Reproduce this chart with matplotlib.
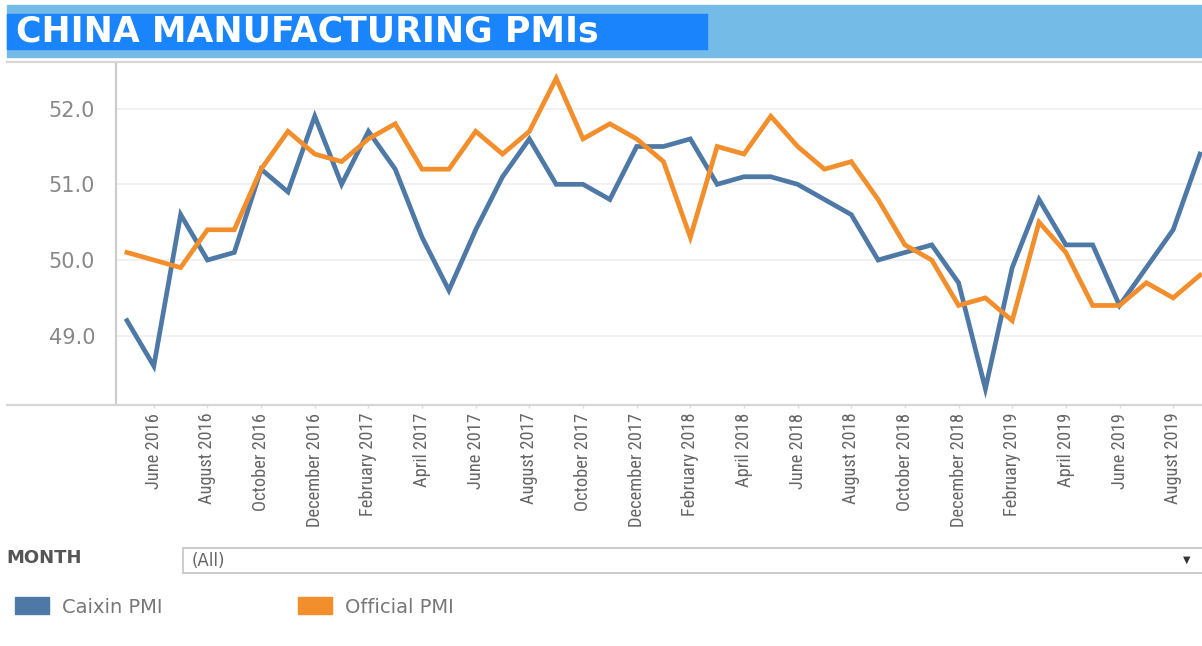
import matplotlib
matplotlib.use("Agg")
import matplotlib.pyplot as plt
import pandas as pd
from matplotlib import font_manager
from matplotlib.patches import Rectangle, Patch
from matplotlib.lines import Line2D

# monthly PMI readings, May 2016 .. Sep 2019
months = pd.date_range("2016-05-01", periods=41, freq="MS").strftime("%B %Y").tolist()
caixin = [49.2, 48.6, 50.6, 50.0, 50.1, 51.2, 50.9, 51.9, 51.0, 51.7, 51.2, 50.3,
          49.6, 50.4, 51.1, 51.6, 51.0, 51.0, 50.8, 51.5, 51.5, 51.6, 51.0, 51.1,
          51.1, 51.0, 50.8, 50.6, 50.0, 50.1, 50.2, 49.7, 48.3, 49.9, 50.8, 50.2,
          50.2, 49.4, 49.9, 50.4, 51.4]
official = [50.1, 50.0, 49.9, 50.4, 50.4, 51.2, 51.7, 51.4, 51.3, 51.6, 51.8, 51.2,
            51.2, 51.7, 51.4, 51.7, 52.4, 51.6, 51.8, 51.6, 51.3, 50.3, 51.5, 51.4,
            51.9, 51.5, 51.2, 51.3, 50.8, 50.2, 50.0, 49.4, 49.5, 49.2, 50.5, 50.1,
            49.4, 49.4, 49.7, 49.5, 49.8]
yticks = [49.0, 50.0, 51.0, 52.0]

BLUE = "#4e79a7"
ORANGE = "#f28e2b"

# narrowest available face for the rotated month labels
names = {f.name for f in font_manager.fontManager.ttflist}
narrow = "DejaVu Sans"
for cand in ["Liberation Sans Narrow", "Roboto Condensed", "Open Sans Condensed",
             "DejaVu Sans Condensed"]:
    if cand in names:
        narrow = cand
        break

W, H = 1202, 646
fig = plt.figure(figsize=(W / 100, H / 100), dpi=100)

def fx(px):
    return px / W

def fy(py):
    return 1 - py / H

# title banner
fig.patches.append(Rectangle((fx(7), fy(57)), fx(1202) - fx(7), (57 - 5) / H,
                             transform=fig.transFigure, color="#74bbe8", zorder=0))
fig.patches.append(Rectangle((fx(7), fy(49)), fx(707) - fx(7), (49 - 14) / H,
                             transform=fig.transFigure, color="#1a84fc", zorder=1))
fig.text(fx(16), fy(32), "CHINA MANUFACTURING PMIs", color="white", fontsize=25,
         fontweight="bold", family="DejaVu Sans", va="center", ha="left")

# frame lines across the chart pane
for py in (62, 405):
    fig.add_artist(Line2D([fx(7), 1], [fy(py), fy(py)], color="#d6d6d6", lw=1.6,
                          transform=fig.transFigure))

ax = fig.add_axes([fx(116), fy(405), fx(1202) - fx(116), (405 - 62) / H])
x = list(range(len(months)))
ax.plot(x, caixin, color=BLUE, lw=3.4, solid_joinstyle="miter", label="Caixin PMI")
ax.plot(x, official, color=ORANGE, lw=3.4, solid_joinstyle="miter", label="Official PMI")

ax.set_xlim(-0.41, 40.075)
ax.set_ylim(48.085, 52.616)
ax.set_yticks(yticks)
ax.set_yticklabels([f"{v:.1f}" for v in yticks])
ax.grid(axis="y", color="#efefef", lw=1.2)
ax.set_axisbelow(True)

ax.set_xticks(x[1::2])
xlabels = ax.set_xticklabels(months[1::2], rotation=90, family=narrow,
                             fontstretch="condensed", fontsize=14, color="#666666")
ax.tick_params(axis="x", length=2.5, color="#dddddd", width=1, pad=3)
ax.tick_params(axis="y", length=0, pad=15, labelsize=15, labelcolor="#888888")

# shrink month labels so "December 2016" runs about 115 px, as in the source
fig.canvas.draw()
longest = max(t.get_window_extent().height for t in xlabels)
size = 14 * 115 / longest
for t in xlabels:
    t.set_fontsize(size)

for s in ("top", "right", "bottom"):
    ax.spines[s].set_visible(False)
ax.spines["left"].set_color("#cccccc")
ax.spines["left"].set_linewidth(1.6)

# filter control
fig.text(fx(6), fy(558), "MONTH", fontsize=13, fontweight="bold", color="#555555",
         va="center", ha="left")
fig.patches.append(Rectangle((fx(183), fy(573)), 1.1 - fx(183), (573 - 548) / H,
                             transform=fig.transFigure, facecolor="white",
                             edgecolor="#cccccc", lw=1.4))
fig.text(fx(192), fy(561), "(All)", fontsize=12, color="#666666", va="center", ha="left")
fig.text(fx(1187), fy(560), "\u25bc", fontsize=7, color="#333333", va="center", ha="center")

# color legend
handles = [Patch(facecolor=BLUE, edgecolor=BLUE, label="Caixin PMI"),
           Patch(facecolor=ORANGE, edgecolor=ORANGE, label="Official PMI")]
fig.legend(handles=handles, loc="center left", bbox_to_anchor=(fx(15), fy(607)),
           ncol=2, frameon=False, fontsize=14, labelcolor="#777777",
           handlelength=1.75, handleheight=0.95, handletextpad=0.65,
           columnspacing=7.0, borderpad=0, borderaxespad=0)

fig.savefig("out.png", dpi=100)
